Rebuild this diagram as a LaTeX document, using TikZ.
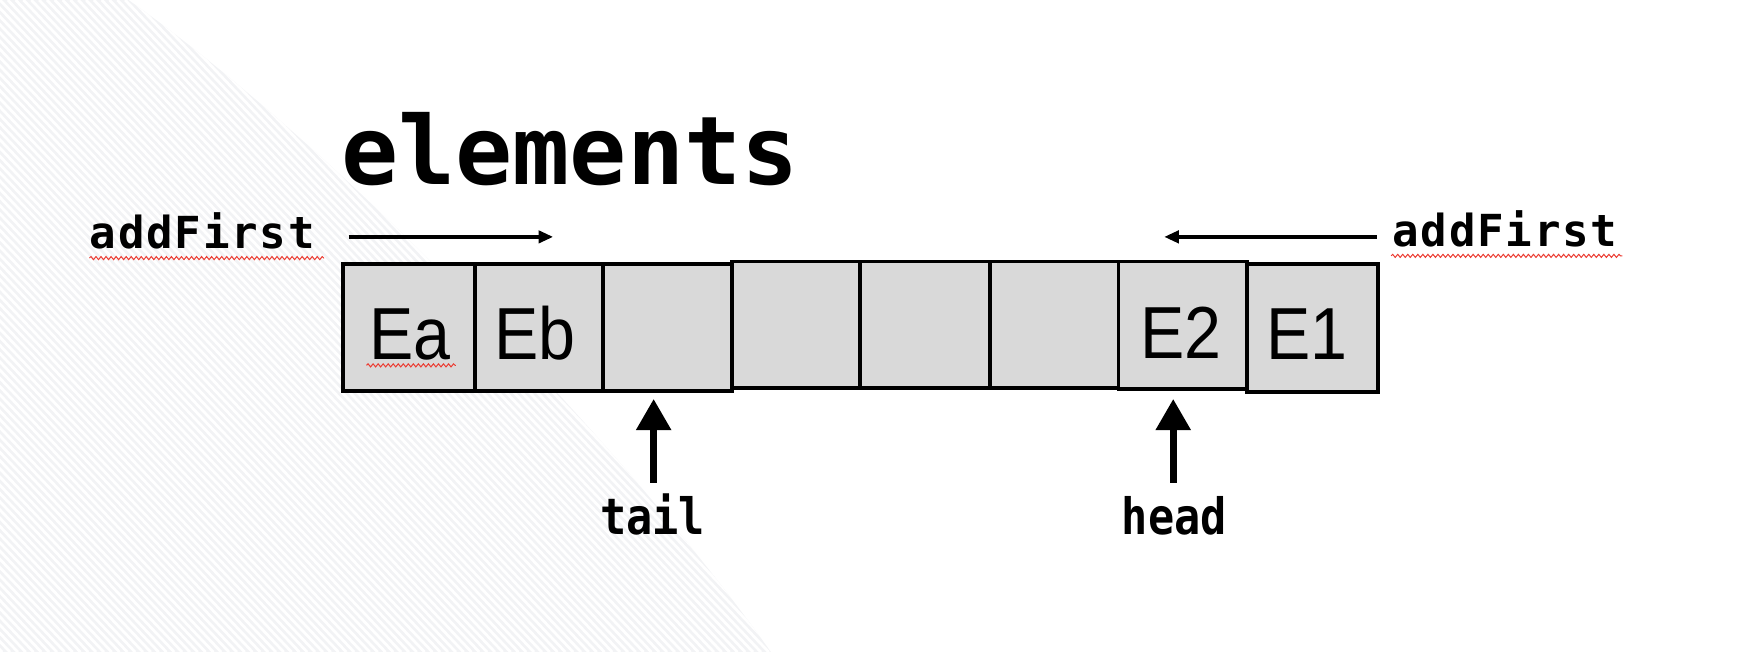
\documentclass[tikz,border=0pt]{standalone}
\usepackage{fontspec}
\usepackage{graphicx}
\usetikzlibrary{arrows.meta,decorations.pathmorphing}
\newfontfamily\codefont{DejaVu Sans Mono}[BoldFont={DejaVu Sans Mono Bold}]
\newfontfamily\codefontsp{DejaVu Sans Mono}[BoldFont={DejaVu Sans Mono Bold}, LetterSpace=4]
\newfontfamily\cellfont{Liberation Sans}
\definecolor{bgband}{RGB}{242,243,245}
\definecolor{cellgray}{RGB}{217,217,217}
\definecolor{squig}{RGB}{235,60,50}
\tikzset{
  cellbox/.style={draw=black, line width=3.5pt, fill=cellgray, rectangle, inner sep=0pt},
  celltext/.style={font=\cellfont\fontsize{66}{70}\selectfont, inner sep=0pt, anchor=base},
  codetext/.style={font=\codefont\bfseries\fontsize{#1}{#1}\selectfont, inner sep=0pt, anchor=base},
  codetextsp/.style={font=\codefontsp\bfseries\fontsize{#1}{#1}\selectfont, inner sep=0pt, anchor=base},
  thinarrow/.style={line width=3pt, -{Triangle[length=13pt,width=11pt]}},
  bigarrow/.style={line width=6.5pt, -{Triangle[length=28pt,width=30pt]}},
  squiggle/.style={draw=squig, line width=0.9pt, decorate, decoration={snake, amplitude=1.4pt, segment length=4.5pt}}
}
\begin{document}
\begin{tikzpicture}[x=1pt,y=-1pt]
\useasboundingbox (0,0) rectangle (1568,583.6);
% faint striped background band
\begin{scope}
  \clip (0,0) -- (115,0) .. controls (300,130) and (560,400) .. (690,583.6) -- (0,583.6) -- cycle;
  \fill[bgband] (0,0) rectangle (700,583.6);
  \foreach \i in {-700,-693,...,700} \draw[white, line width=2.5pt] (\i,0) -- ++(555,583.6);
\end{scope}

% title
\node[codetext=85] (title) at (510,165) {elements};

% cells
\node[cellbox, minimum width=118pt, minimum height=114pt] (c1) at (366,293) {};
\node[cellbox, minimum width=115pt, minimum height=114pt] (c2) at (482.5,293) {};
\node[cellbox, minimum width=115pt, minimum height=114pt] (c3) at (597.5,293) {};
\node[cellbox, minimum width=115pt, minimum height=113pt] (c4) at (712.5,290.5) {};
\node[cellbox, minimum width=116pt, minimum height=113pt] (c5) at (828,290.5) {};
\node[cellbox, minimum width=115pt, minimum height=113pt] (c6) at (943.5,290.5) {};
\node[cellbox, minimum width=115pt, minimum height=114pt] (c7) at (1058.5,291) {};
\node[cellbox, minimum width=117pt, minimum height=115pt] (c8) at (1174.5,293.5) {};

% cell texts
\node[celltext] (ea) at (367,322) {\scalebox{0.9}[1]{Ea}};
\node[celltext] (eb) at (479,322) {\scalebox{0.9}[1]{Eb}};
\node[celltext] (e2) at (1057,321) {\scalebox{0.9}[1]{E2}};
\node[celltext] (e1) at (1170,322) {\scalebox{0.9}[1]{E1}};

% addFirst labels
\node[codetextsp=39.5] (addl) at (181,222) {addFirst};
\node[codetextsp=39.5] (addr) at (1347,221) {addFirst};

% spell-check squiggles
\draw[squiggle] (80,231) -- (290,231);
\draw[squiggle] (1245,229) -- (1452,229);
\draw[squiggle] (328,327) -- (408,327);

% horizontal arrows
\coordinate (la1) at (312,212);
\coordinate (la2) at (495,212);
\coordinate (ra1) at (1232,212);
\coordinate (ra2) at (1042,212);
\draw[thinarrow] (la1) -- (la2);
\draw[thinarrow] (ra1) -- (ra2);

% tail and head
\node[codetext=39] (tail) at (584,478) {\scalebox{1}[1.15]{tail}};
\node[codetext=39] (head) at (1051,478) {\scalebox{1}[1.15]{head}};
\coordinate (tb) at (585,432);
\coordinate (tt) at (585,357);
\coordinate (hb) at (1050,432);
\coordinate (ht) at (1050,357);
\draw[bigarrow] (tb) -- (tt);
\draw[bigarrow] (hb) -- (ht);
\end{tikzpicture}
\end{document}
